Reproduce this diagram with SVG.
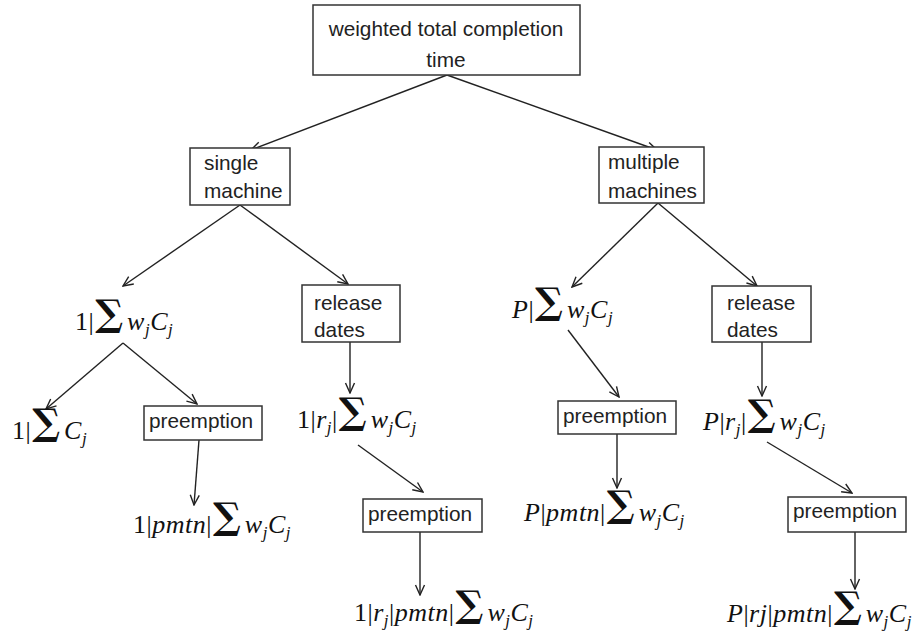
<svg xmlns="http://www.w3.org/2000/svg" width="915" height="633" viewBox="0 0 915 633">
<style>
.box{fill:#fff;stroke:#333;stroke-width:1.5}
.lbl{font-family:"Liberation Sans",Arial,sans-serif;font-size:20.8px;fill:#222}
.m{font-family:"Liberation Serif","Times New Roman",serif;font-size:26px;letter-spacing:0.5px;fill:#111}
.i{font-style:italic}
.sub{font-style:italic;font-size:17px}
.sig{font-family:"DejaVu Serif",serif;font-size:37px;font-weight:bold;letter-spacing:0}
.c{fill:none;stroke:#222;stroke-width:1.4;marker-end:url(#ah)}
</style>
<defs>
<marker id="ah" viewBox="0 0 12 12" refX="11" refY="6" markerWidth="12" markerHeight="12" markerUnits="userSpaceOnUse" orient="auto">
<path d="M1,1.5 L11,6 L1,10.5" fill="none" stroke="#222" stroke-width="1.4"/>
</marker>
</defs>
<g id="connectors">
<line class="c" x1="447" y1="75" x2="251" y2="150"/>
<line class="c" x1="447" y1="75" x2="657" y2="150"/>
<line class="c" x1="240" y1="205" x2="123" y2="286"/>
<line class="c" x1="240" y1="205" x2="348" y2="284"/>
<line class="c" x1="658" y1="203" x2="572" y2="287"/>
<line class="c" x1="658" y1="203" x2="757" y2="286"/>
<line class="c" x1="123" y1="343" x2="46" y2="409"/>
<line class="c" x1="123" y1="343" x2="197" y2="404"/>
<line class="c" x1="199" y1="440" x2="194" y2="505"/>
<line class="c" x1="350" y1="342" x2="350" y2="393"/>
<line class="c" x1="358" y1="445" x2="423" y2="492"/>
<line class="c" x1="420" y1="532" x2="420" y2="595"/>
<line class="c" x1="568" y1="330" x2="619" y2="397"/>
<line class="c" x1="617" y1="434" x2="617" y2="488"/>
<line class="c" x1="762" y1="342" x2="762" y2="396"/>
<line class="c" x1="767" y1="442" x2="852" y2="493"/>
<line class="c" x1="855" y1="532" x2="855" y2="589"/>
</g>
<g id="root">
<rect class="box" x="313" y="5" width="267" height="70"/>
<text class="lbl" x="446" y="36" text-anchor="middle">weighted total completion</text>
<text class="lbl" x="446" y="67" text-anchor="middle">time</text>
</g>
<g id="single">
<rect class="box" x="190" y="148" width="100" height="57"/>
<text class="lbl" x="204" y="170">single</text>
<text class="lbl" x="204" y="198">machine</text>
</g>
<g id="multiple">
<rect class="box" x="599" y="147" width="105" height="56"/>
<text class="lbl" x="608" y="169">multiple</text>
<text class="lbl" x="608" y="198">machines</text>
</g>
<g id="release1">
<rect class="box" x="302" y="285" width="98" height="57"/>
<text class="lbl" x="314" y="310">release</text>
<text class="lbl" x="314" y="337">dates</text>
</g>
<g id="release2">
<rect class="box" x="712" y="286" width="99" height="56"/>
<text class="lbl" x="727" y="310">release</text>
<text class="lbl" x="727" y="337">dates</text>
</g>
<g id="pre1">
<rect class="box" x="144" y="406" width="118" height="34"/>
<text class="lbl" x="149" y="428">preemption</text>
</g>
<g id="pre2">
<rect class="box" x="363" y="499" width="119" height="33"/>
<text class="lbl" x="368" y="521">preemption</text>
</g>
<g id="pre3">
<rect class="box" x="558" y="401" width="118" height="33"/>
<text class="lbl" x="563" y="423">preemption</text>
</g>
<g id="pre4">
<rect class="box" x="788" y="497" width="118" height="35"/>
<text class="lbl" x="793" y="518">preemption</text>
</g>
<g id="f1">
<text class="m" x="75" y="330">1|<tspan class="sig" dx="1" dy="-4">∑</tspan><tspan class="i" dx="4" dy="4">w</tspan><tspan class="sub" dy="5">j</tspan><tspan class="i" dy="-5">C</tspan><tspan class="sub" dy="5">j</tspan></text>
</g>
<g id="f2">
<text class="m" x="12" y="439">1|<tspan class="sig" dx="1" dy="-4">∑</tspan><tspan class="i" dx="4" dy="4">C</tspan><tspan class="sub" dy="5">j</tspan></text>
</g>
<g id="f3">
<text class="m" x="133" y="533">1|<tspan class="i">pmtn</tspan>|<tspan class="sig" dx="1" dy="-4">∑</tspan><tspan class="i" dx="4" dy="4">w</tspan><tspan class="sub" dy="5">j</tspan><tspan class="i" dy="-5">C</tspan><tspan class="sub" dy="5">j</tspan></text>
</g>
<g id="f4">
<text class="m" x="297" y="428">1|<tspan class="i">r</tspan><tspan class="sub" dy="5">j</tspan><tspan dy="-5">|</tspan><tspan class="sig" dx="1" dy="-4">∑</tspan><tspan class="i" dx="4" dy="4">w</tspan><tspan class="sub" dy="5">j</tspan><tspan class="i" dy="-5">C</tspan><tspan class="sub" dy="5">j</tspan></text>
</g>
<g id="f5">
<text class="m" x="354" y="621">1|<tspan class="i">r</tspan><tspan class="sub" dy="5">j</tspan><tspan dy="-5">|</tspan><tspan class="i">pmtn</tspan>|<tspan class="sig" dx="1" dy="-4">∑</tspan><tspan class="i" dx="4" dy="4">w</tspan><tspan class="sub" dy="5">j</tspan><tspan class="i" dy="-5">C</tspan><tspan class="sub" dy="5">j</tspan></text>
</g>
<g id="f6">
<text class="m" x="512" y="318"><tspan class="i">P</tspan>|<tspan class="sig" dx="1" dy="-4">∑</tspan><tspan class="i" dx="4" dy="4">w</tspan><tspan class="sub" dy="5">j</tspan><tspan class="i" dy="-5">C</tspan><tspan class="sub" dy="5">j</tspan></text>
</g>
<g id="f7">
<text class="m" x="524" y="521"><tspan class="i">P</tspan>|<tspan class="i">pmtn</tspan>|<tspan class="sig" dx="1" dy="-4">∑</tspan><tspan class="i" dx="4" dy="4">w</tspan><tspan class="sub" dy="5">j</tspan><tspan class="i" dy="-5">C</tspan><tspan class="sub" dy="5">j</tspan></text>
</g>
<g id="f8">
<text class="m" x="703" y="430"><tspan class="i">P</tspan>|<tspan class="i">r</tspan><tspan class="sub" dy="5">j</tspan><tspan dy="-5">|</tspan><tspan class="sig" dx="1" dy="-4">∑</tspan><tspan class="i" dx="4" dy="4">w</tspan><tspan class="sub" dy="5">j</tspan><tspan class="i" dy="-5">C</tspan><tspan class="sub" dy="5">j</tspan></text>
</g>
<g id="f9">
<text class="m" x="727" y="622"><tspan class="i">P</tspan>|<tspan class="i">rj</tspan>|<tspan class="i">pmtn</tspan>|<tspan class="sig" dx="1" dy="-4">∑</tspan><tspan class="i" dx="4" dy="4">w</tspan><tspan class="sub" dy="5">j</tspan><tspan class="i" dy="-5">C</tspan><tspan class="sub" dy="5">j</tspan></text>
</g>
</svg>
